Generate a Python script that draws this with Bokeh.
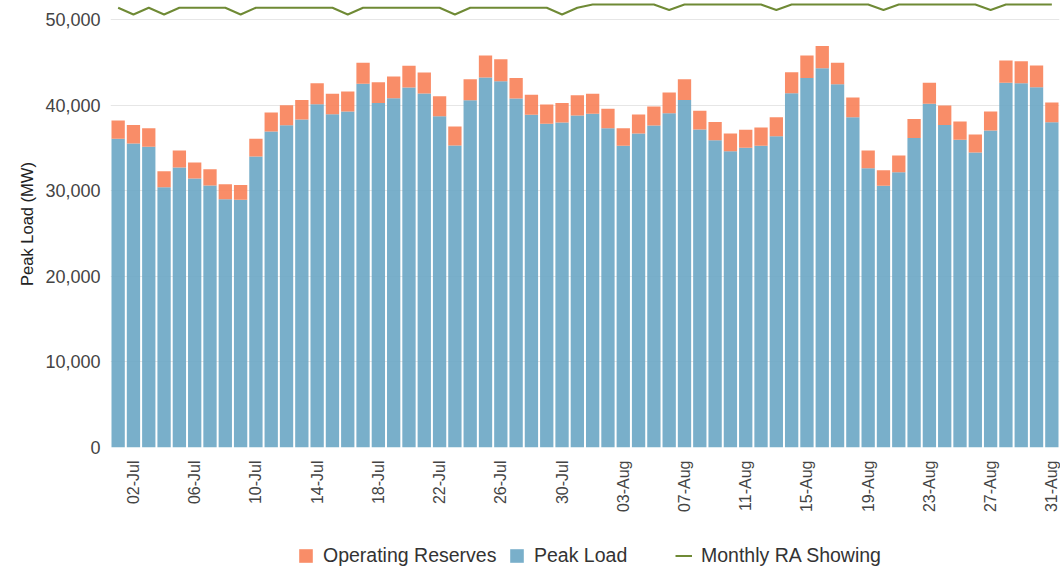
import math
import pandas as pd
from bokeh.plotting import figure
from bokeh.layouts import column
from bokeh.models import (ColumnDataSource, Legend, LegendItem, FixedTicker,
                          NumeralTickFormatter, Range1d)
from bokeh.embed import file_html
from bokeh.resources import INLINE

# ---- data ----
dates = list(pd.date_range("2022-07-01", "2022-08-31").strftime("%d-%b"))

peak_load = [36060, 35510, 35120, 30410, 32710, 31420, 30610, 29010, 28930, 34000,
             36910, 37650, 38320, 40110, 38940, 39250, 42480, 40260, 40810, 42060,
             41350, 38710, 35280, 40570, 43220, 42790, 40770, 38860, 37810, 37970,
             38780,
             38980, 37300, 35240, 36680, 37620, 39060, 40610, 37150, 35900, 34620,
             35010, 35240, 36370, 41390, 43180, 44300, 42440, 38590, 32630, 30570,
             32160, 36170, 40150, 37690, 35940, 34460, 37030, 42600, 42560, 42090,
             38010]

operating_reserves = [2140, 2180, 2180, 1870, 1990, 1870, 1900, 1750, 1750, 2060,
                      2220, 2340, 2290, 2450, 2380, 2340, 2460, 2420, 2530, 2530,
                      2460, 2330, 2220, 2460, 2570, 2580, 2410, 2340, 2260, 2290,
                      2380,
                      2340, 2260, 2060, 2220, 2220, 2410, 2420, 2180, 2140, 2060,
                      2100, 2140, 2220, 2460, 2610, 2600, 2500, 2300, 2070, 1830,
                      1950, 2220, 2450, 2260, 2140, 2100, 2220, 2610, 2570, 2540,
                      2290]

monthly_ra_showing = [51370, 50580, 51370, 50580, 51370, 51370, 51370, 51370, 50580, 51370,
                      51370, 51370, 51370, 51370, 51370, 50580, 51370, 51370, 51370, 51370,
                      51370, 51370, 50580, 51370, 51370, 51370, 51370, 51370, 51370, 50580,
                      51370,
                      51750, 51750, 51750, 51750, 51750, 51110, 51750, 51750, 51750, 51750,
                      51750, 51750, 51110, 51750, 51750, 51750, 51750, 51750, 51750, 51110,
                      51750, 51750, 51750, 51750, 51750, 51750, 51110, 51750, 51750, 51750,
                      51750]

tick_labels = ["02-Jul", "06-Jul", "10-Jul", "14-Jul", "18-Jul", "22-Jul", "26-Jul",
               "30-Jul", "03-Aug", "07-Aug", "11-Aug", "15-Aug", "19-Aug", "23-Aug",
               "27-Aug", "31-Aug"]
y_ticks = [0, 10000, 20000, 30000, 40000, 50000]
series_names = ["Operating Reserves", "Peak Load", "Monthly RA Showing"]

# ---- build ----
xs = list(range(len(dates)))
src = ColumnDataSource(dict(x=xs, date=dates, peak=peak_load,
                            reserves=operating_reserves, ra=monthly_ra_showing))

FONT = "Liberation Sans"
BLUE = "#6aa6c4"
ORANGE = "#f88158"
GREEN = "#6f8a35"

p = figure(width=1060, height=520, output_backend="svg", toolbar_location=None,
           x_range=Range1d(-0.5, len(dates) - 0.5), y_range=Range1d(0, 52220),
           min_border_left=110, min_border_right=1, min_border_top=0,
           min_border_bottom=73)
p.outline_line_color = None
p.background_fill_color = "white"
p.border_fill_color = "white"

bars = p.vbar_stack(["peak", "reserves"], x="x", width=0.87, source=src,
                    fill_color=[BLUE, ORANGE], fill_alpha=0.9, line_color=None)
ra_line = p.line("x", "ra", source=src, line_color=GREEN, line_width=2)

# axes
tick_pos = [dates.index(t) for t in tick_labels]
p.xaxis.ticker = FixedTicker(ticks=tick_pos)
p.xaxis.major_label_overrides = {i: dates[i] for i in tick_pos}
p.xaxis.major_label_orientation = math.pi / 2
p.xaxis.major_label_text_font = FONT
p.xaxis.major_label_text_font_size = "16px"
p.xaxis.major_label_text_color = "#444444"
p.xaxis.major_label_standoff = 13
p.xaxis.axis_line_color = None
p.xaxis.major_tick_line_color = None
p.xaxis.minor_tick_line_color = None
p.xaxis.major_tick_out = 0

p.yaxis.ticker = FixedTicker(ticks=y_ticks)
p.yaxis.formatter = NumeralTickFormatter(format="0,0")
p.yaxis.major_label_text_font = FONT
p.yaxis.major_label_text_font_size = "18px"
p.yaxis.major_label_text_color = "#444444"
p.yaxis.major_label_standoff = 10
p.yaxis.axis_line_color = None
p.yaxis.major_tick_line_color = None
p.yaxis.minor_tick_line_color = None
p.yaxis.major_tick_out = 0
p.yaxis.axis_label = "Peak Load (MW)"
p.yaxis.axis_label_text_font = FONT
p.yaxis.axis_label_text_font_size = "16.5px"
p.yaxis.axis_label_text_font_style = "normal"
p.yaxis.axis_label_text_color = "#222222"
p.yaxis.axis_label_standoff = 6

p.xgrid.grid_line_color = None
p.ygrid.grid_line_color = "#e6e6e6"
p.ygrid.grid_line_width = 1

# ---- legend strip (separate figure so the legend is not clipped) ----
leg = figure(width=1060, height=47, output_backend="svg", toolbar_location=None,
             x_range=Range1d(0, 100), y_range=Range1d(0, 10),
             x_axis_type=None, y_axis_type=None,
             min_border_left=0, min_border_right=0, min_border_top=0,
             min_border_bottom=0)
leg.outline_line_color = None
leg.background_fill_color = "white"
leg.border_fill_color = "white"
leg.xgrid.visible = False
leg.ygrid.visible = False
# off-screen key renderers that only supply the legend swatches
k_res = leg.vbar(x=[50], top=[-5], bottom=[-6], width=1, fill_color=ORANGE,
                 fill_alpha=0.9, line_color=None)
k_peak = leg.vbar(x=[50], top=[-5], bottom=[-6], width=1, fill_color=BLUE,
                  fill_alpha=0.9, line_color=None)
k_ra = leg.line(x=[50, 51], y=[-5, -5], line_color=GREEN, line_width=2)


def make_legend(label, renderer, loc):
    return Legend(items=[LegendItem(label=label, renderers=[renderer])],
                  location=loc, orientation="horizontal", padding=0, margin=0,
                  border_line_color=None, background_fill_alpha=0,
                  glyph_width=17, glyph_height=17, label_standoff=9,
                  label_text_font=FONT, label_text_font_size="19.5px",
                  label_text_color="#333333")


# legend frame is aligned with the main plot frame (left edge at 110 px)
for lab, rend, loc in zip(series_names, [k_res, k_peak, k_ra],
                          [(187, 0), (398, 0), (565, 0)]):
    leg.add_layout(make_legend(lab, rend, loc))

layout = column(p, leg, spacing=0)
open("out.html", "w").write(file_html(layout, INLINE))
